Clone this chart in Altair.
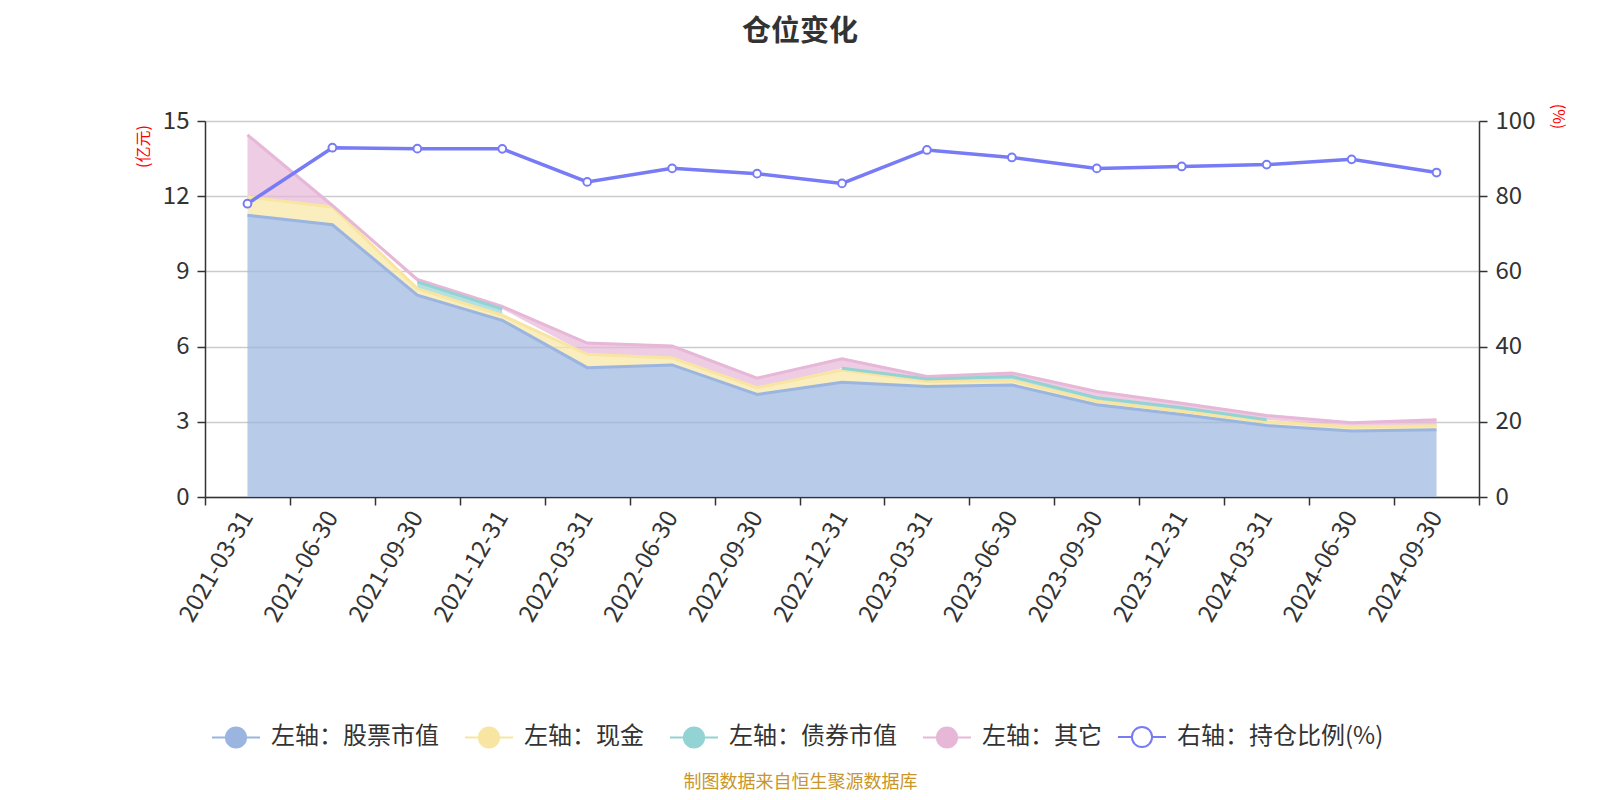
import altair as alt
import pandas as pd

dates = ["2021-03-31", "2021-06-30", "2021-09-30", "2021-12-31", "2022-03-31",
         "2022-06-30", "2022-09-30", "2022-12-31", "2023-03-31", "2023-06-30",
         "2023-09-30", "2023-12-31", "2024-03-31", "2024-06-30", "2024-09-30"]
stock = [11.24, 10.86, 8.05, 7.05, 5.16, 5.27, 4.09, 4.58, 4.41, 4.47, 3.68, 3.29, 2.85, 2.63, 2.68]
cash = [0.73, 0.71, 0.26, 0.20, 0.53, 0.28, 0.27, 0.49, 0.20, 0.18, 0.14, 0.13, 0.16, 0.16, 0.16]
bond = [None, None, 0.27, 0.25, None, None, None, 0.07, 0.10, 0.16, 0.14, 0.14, 0.07, None, None]
other = [2.48, 0.06, 0.10, 0.10, 0.45, 0.47, 0.38, 0.37, 0.10, 0.14, 0.25, 0.18, 0.17, 0.17, 0.24]
ratio = [78.0, 92.9, 92.65, 92.6, 83.8, 87.4, 86.0, 83.4, 92.3, 90.3, 87.4, 87.9, 88.4, 89.8, 86.3]

names = ["左轴：股票市值", "左轴：现金", "左轴：债券市值", "左轴：其它", "右轴：持仓比例(%)"]
colors = ["#9ab5e0", "#f8e5a2", "#93d3d3", "#e7b7d7", "#777bf5"]

# stacked rows (a missing value is skipped, as ECharts does)
rows = []
series_vals = [stock, cash, bond, other]
runs = {n: 0 for n in names[:4]}
prev_missing = {n: True for n in names[:4]}
for i, d in enumerate(dates):
    base = 0.0
    for name, vals in zip(names[:4], series_vals):
        v = vals[i]
        if v is None:
            prev_missing[name] = True
            continue
        if prev_missing[name]:
            runs[name] += 1
            prev_missing[name] = False
        rows.append(dict(date=d, series=name, bottom=base, top=base + v,
                         seg=f"{name}-{runs[name]}"))
        base += v
stack_df = pd.DataFrame(rows)
ratio_df = pd.DataFrame({"date": dates, "ratio": ratio, "series": names[4]})

FONT = "Noto Sans CJK SC"
cscale = alt.Scale(domain=names[:4], range=colors[:4])
sscale = alt.Scale(domain=names[4:], range=colors[4:])

x_enc = alt.X(
    "date:N", sort=dates, bandPosition=0.5,
    scale=alt.Scale(type="band", paddingInner=0, paddingOuter=0),
    axis=alt.Axis(
        title="制图数据来自恒生聚源数据库", titleX=595, titleY=285,
        titleAlign="center", titleBaseline="middle", titleColor="#c8962a",
        titleFontSize=18, titleFontWeight="normal", titleFont=FONT,
        labelAngle=-60, labelAlign="right", labelBaseline="middle",
        labelFontSize=24, labelColor="#333333", labelFont=FONT, labelPadding=8,
        tickBand="extent", tickSize=8, tickColor="#333333", tickWidth=1.5,
        domainColor="#333333", domainWidth=1.5, grid=False,
    ),
)

legend_path = ("M-1,0L-0.42,0M0.42,0L1,0M-0.42,0A0.42,0.42,0,1,1,0.42,0"
               "A0.42,0.42,0,1,1,-0.42,0Z")
legend_common = dict(
    title=None, orient="none", direction="horizontal",
    symbolType=legend_path, symbolSize=2304, symbolStrokeWidth=2,
    symbolOpacity=1, labelFontSize=24, labelColor="#333333", labelFont=FONT,
    labelOffset=10, labelLimit=400,
)
legend_a = alt.Legend(legendX=6, legendY=591, columns=4, columnPadding=22,
                      **legend_common)
legend_b = alt.Legend(legendX=912, legendY=591, symbolFillColor="#ffffff",
                      **legend_common)

y_left = alt.Y(
    "top:Q", stack=False, scale=alt.Scale(domain=[0, 15], nice=False),
    axis=alt.Axis(
        values=[0, 3, 6, 9, 12, 15], title="(亿元)", titleColor="red",
        titleFontSize=16, titleFontWeight="normal", titleFont=FONT,
        titleAngle=-90, titleX=-62, titleY=25, titleAlign="center",
        titleBaseline="middle",
        labelFontSize=24, labelColor="#333333", labelFont=FONT, labelPadding=8,
        tickSize=8, tickColor="#333333", tickWidth=1.5,
        domainColor="#333333", domainWidth=1.5,
        grid=True, gridColor="#cccccc", gridWidth=1.5,
    ),
)

area = alt.Chart(stack_df).mark_area(opacity=0.7).encode(
    x=x_enc, y=y_left, y2="bottom:Q",
    color=alt.Color("series:N", scale=cscale, legend=legend_a),
    detail="seg:N",
)
tops = alt.Chart(stack_df).mark_line(strokeWidth=3).encode(
    x=x_enc, y=alt.Y("top:Q", stack=False),
    color=alt.Color("series:N", scale=cscale, legend=legend_a),
    detail="seg:N",
)
left = alt.layer(area, tops)

y_right = alt.Y(
    "ratio:Q", scale=alt.Scale(domain=[0, 100], nice=False),
    axis=alt.Axis(
        orient="right", values=[0, 20, 40, 60, 80, 100], title="(%)",
        titleColor="red", titleFontSize=16, titleFontWeight="normal",
        titleFont=FONT, titleAngle=90, titleX=78, titleY=-5,
        titleAlign="center", titleBaseline="middle",
        labelFontSize=24, labelColor="#333333", labelFont=FONT, labelPadding=8,
        tickSize=8, tickColor="#333333", tickWidth=1.5,
        domainColor="#333333", domainWidth=1.5, grid=False,
    ),
)
pline = alt.Chart(ratio_df).mark_line(strokeWidth=3.5).encode(
    x=x_enc, y=y_right,
    stroke=alt.Stroke("series:N", scale=sscale, legend=legend_b),
)
ppoints = alt.Chart(ratio_df).mark_point(
    fill="white", fillOpacity=1, opacity=1, strokeWidth=2, size=60
).encode(
    x=x_enc, y=y_right,
    stroke=alt.Stroke("series:N", scale=sscale, legend=legend_b),
)
right = alt.layer(pline, ppoints)

chart = alt.layer(left, right).resolve_scale(y="independent").properties(
    width=1274, height=376,
    title=alt.TitleParams(
        "仓位变化", fontSize=29, fontWeight="bold", color="#333333", font=FONT,
        anchor="middle", frame="group", dx=-42, offset=42, baseline="middle",
    ),
    autosize=alt.AutoSizeParams(type="none"),
    padding={"left": 197, "top": 113, "right": 113, "bottom": 295},
).configure_view(stroke="transparent").configure(font=FONT)

chart.save("out.html", embed_options={"renderer": "svg", "actions": False})
